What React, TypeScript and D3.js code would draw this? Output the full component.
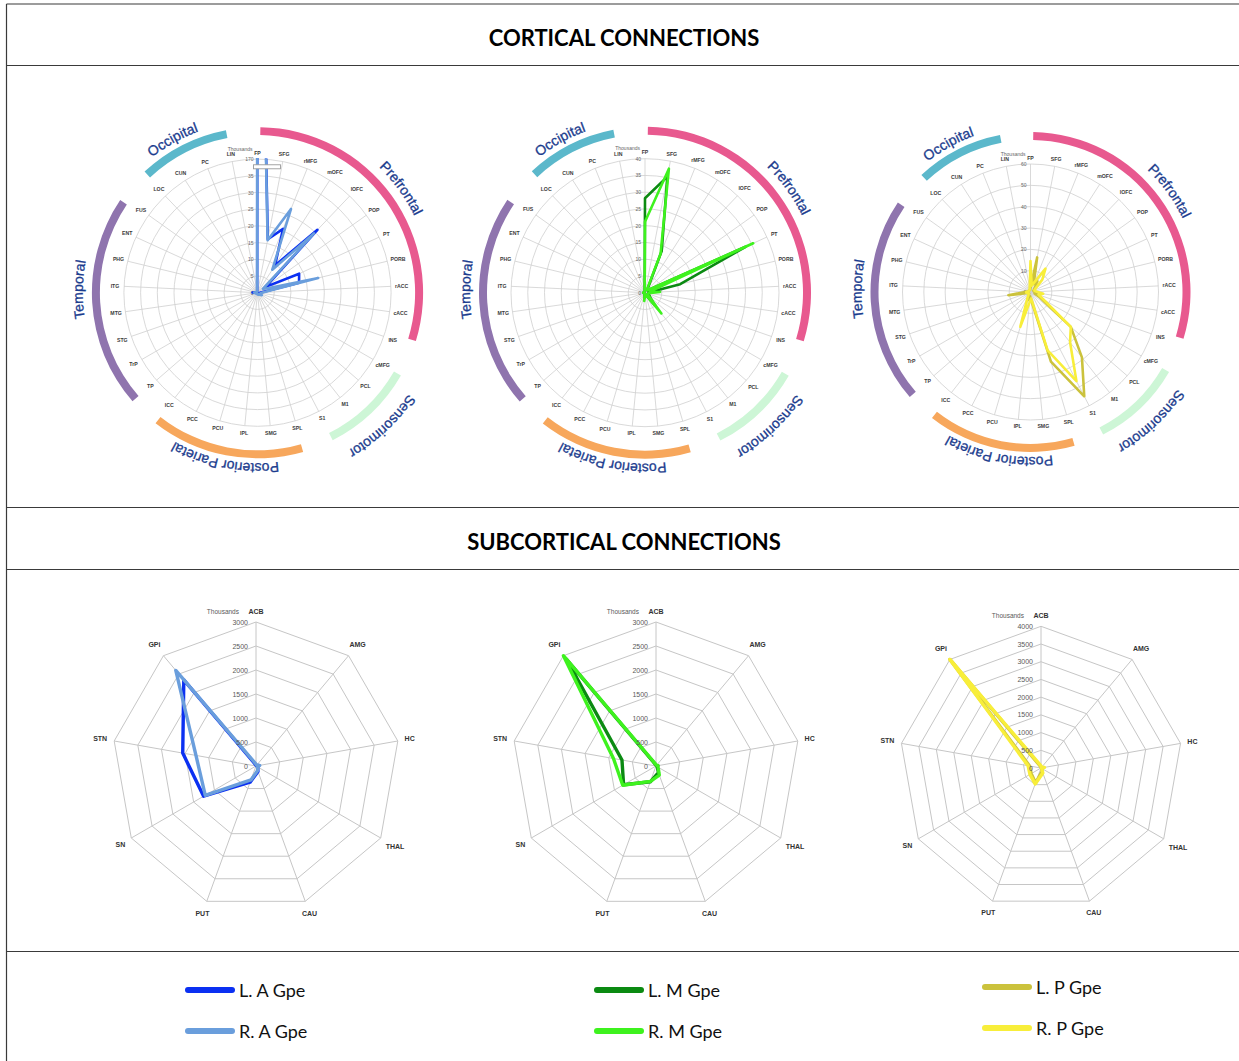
import React from 'react';
import * as d3 from 'd3';

// Cortical target regions, clockwise from the top
const corticalRegions = [
  'FP', 'SFG', 'rMFG', 'mOFC', 'lOFC', 'POP', 'PT', 'PORB', 'rACC', 'cACC', 'INS',
  'cMFG', 'PCL', 'M1', 'S1', 'SPL', 'SMG', 'IPL', 'PCU', 'PCC', 'ICC', 'TP', 'TrP',
  'STG', 'MTG', 'ITG', 'PHG', 'ENT', 'FUS', 'LOC', 'CUN', 'PC', 'LIN',
];

// Streamline counts (thousands), same order as corticalRegions
const leftAGpe = [
  170, 16.3, 20.6, 9.7, 26, 3, 13.7, 12.8, 1, 0.6, 0.5,
  0.8, 0.5, 0.6, 0.5, 0.3, 0.2, 0.3, 0.3, 0.2, 0.2, 0.3, 0.3,
  0.4, 0.5, 1.5, 0.5, 0.3, 0.3, 0.3, 0.2, 0.3, 0.5,
];
const rightAGpe = [
  170, 16, 27, 8.2, 24.5, 2, 3, 18.7, 1.5, 1, 0.8,
  1.5, 0.8, 0.8, 0.6, 0.4, 0.3, 0.5, 0.4, 0.3, 0.3, 0.4, 0.4,
  0.5, 0.6, 1, 0.6, 0.4, 0.4, 0.4, 0.3, 0.4, 0.6,
];
const leftMGpe = [
  28.2, 35.3, 13.4, 1.5, 1, 1.5, 33, 10.8, 1, 1, 1,
  1.5, 2, 4.7, 1, 0.5, 0.3, 1.5, 0.5, 0.3, 0.3, 0.3, 0.3,
  0.3, 0.5, 0.5, 0.3, 0.3, 0.3, 0.3, 0.3, 0.3, 0.5,
];
const rightMGpe = [
  21.2, 37.7, 12.5, 1, 1, 2, 35.5, 1.5, 4.5, 1, 1,
  1, 1.5, 7.9, 1, 0.5, 0.3, 2.5, 0.5, 0.3, 0.3, 0.3, 0.3,
  0.3, 0.5, 0.5, 0.3, 0.3, 0.3, 0.3, 0.3, 0.3, 0.5,
];
const leftPGpe = [
  2, 16.5, 4, 6, 3, 2, 1.5, 1.5, 2, 3, 2,
  5, 25, 39, 55, 34, 4, 2, 4, 2, 1, 1, 1,
  1.5, 10.5, 2, 1, 1, 1, 1, 1, 1, 1,
];
const rightPGpe = [
  14.5, 3, 5, 13, 8, 3, 2, 2, 3, 6, 4,
  7, 25, 30, 47, 28.5, 3, 5, 17, 3, 1.5, 1, 1,
  1, 2, 2, 1, 1, 1, 1, 1, 1, 2,
];

// Radial axis ticks of the cortical charts
const anteriorTickValues = [0, 5, 10, 15, 20, 25, 30, 35, 40];
const anteriorTickText = ['0', '5', '10', '15', '20', '25', '30', '35', '170'];
const medialTickValues = [0, 5, 10, 15, 20, 25, 30, 35, 40];
const medialTickText = ['0', '5', '10', '15', '20', '25', '30', '35', '40'];
const posteriorTickValues = [0, 10, 20, 30, 40, 50, 60];
const posteriorTickText = ['0', '10', '20', '30', '40', '50', '60'];

// Lobe groupings drawn as arcs around each cortical chart (degrees, clockwise from top)
const lobeNames = ['Prefrontal', 'Sensorimotor', 'Posterior Parietal', 'Temporal', 'Occipital'];
const lobeStart = [1, 120, 164, 229, 317];
const lobeEnd = [107, 153, 218, 304, 349];
const lobeLabelAngle = [54, 137, 191, 271, 331];
const lobeLabelGap = [41, 48, 37, 41, 38];
const lobeColors = ['#e8598f', '#cdf6d6', '#f7a75c', '#8f74ae', '#5bb8cb'];

// Subcortical targets, clockwise from the top
const subRegions = ['ACB', 'AMG', 'HC', 'THAL', 'CAU', 'PUT', 'SN', 'STN', 'GPi'];
const subLeftA = [20, 10, 60, 40, 120, 360, 1260, 1550, 2340];
const subRightA = [40, 20, 80, 40, 100, 310, 1220, 1270, 2600];
const subLeftM = [20, 10, 40, 30, 150, 350, 780, 720, 2900];
const subRightM = [30, 20, 40, 50, 200, 340, 800, 900, 3000];
const subLeftP = [30, 10, 60, 20, 100, 450, 320, 330, 4000];
const subRightP = [60, 10, 100, 20, 150, 480, 360, 370, 4000];
const subTicksAM = [0, 500, 1000, 1500, 2000, 2500, 3000];
const subTicksP = [0, 500, 1000, 1500, 2000, 2500, 3000, 3500, 4000];

// Series names and colours
const seriesNames = ['L. A Gpe', 'R. A Gpe', 'L. M Gpe', 'R. M Gpe', 'L. P Gpe', 'R. P Gpe'];
const seriesColors = ['#0b30f2', '#6a9edc', '#0b8a12', '#3ef21e', '#cbc23c', '#f8ee3a'];

const GRID = '#cfcfcf';
const NAVY = '#1b3c8e';

type Series = { values: number[]; color: string };

function circlePath(cx: number, cy: number, r: number) {
  // full circle starting at 12 o'clock, running clockwise
  return `M ${cx} ${cy - r} A ${r} ${r} 0 1 1 ${cx} ${cy + r} A ${r} ${r} 0 1 1 ${cx} ${cy - r}`;
}

// distance from the outer ring to a category label's centre, so the label box clears the ring
function labelOffset(a: number, name: string, pad: number, charW: number, h: number) {
  return pad + Math.abs(Math.sin(a)) * (name.length * charW) / 2 + Math.abs(Math.cos(a)) * h / 2;
}

function CorticalRadar(props: {
  id: string; cx: number; cy: number; R: number; max: number;
  tickValues: number[]; tickText: string[]; series: Series[]; overflowMark?: boolean;
}) {
  const { id, cx, cy, R, max, tickValues, tickText, series, overflowMark } = props;
  const n = corticalRegions.length;
  const angle = d3.scaleLinear().domain([0, n]).range([0, 2 * Math.PI]);
  const radius = d3.scaleLinear().domain([0, max]).range([0, R]);
  const line = d3.lineRadial<number>()
    .angle((_, i) => angle(i))
    .radius((d) => radius(d))
    .curve(d3.curveLinearClosed);
  const band = d3.arc<any>();
  const arcR = R + 28;

  return (
    <g>
      <defs>
        <clipPath id={`${id}-clip`}>
          <circle cx={cx} cy={cy} r={R + 1} />
        </clipPath>
        {lobeNames.map((name, i) => (
          <path key={name} id={`${id}-lobe-${i}`} d={circlePath(cx, cy, R + lobeLabelGap[i])} />
        ))}
      </defs>
      {tickValues.filter((v) => v > 0).map((v) => (
        <circle key={v} cx={cx} cy={cy} r={radius(v)} fill="none" stroke={GRID} strokeWidth={0.8} />
      ))}
      {corticalRegions.map((name, i) => {
        const [x, y] = d3.pointRadial(angle(i), R);
        return <line key={name} x1={cx} y1={cy} x2={cx + x} y2={cy + y} stroke={GRID} strokeWidth={0.8} />;
      })}
      {corticalRegions.map((name, i) => {
        const a = angle(i);
        const [x, y] = d3.pointRadial(a, R + labelOffset(a, name, 4, 3.3, 5));
        return (
          <text key={name} x={cx + x} y={cy + y} fontSize={5.2} fontWeight="bold" fill="#3a3a3a"
            textAnchor="middle" dominantBaseline="central">{name}</text>
        );
      })}
      {tickValues.map((v, i) => (
        <text key={v} x={cx - 4} y={cy - radius(v)} fontSize={5} fill="#666" textAnchor="end"
          dominantBaseline="central">{tickText[i]}</text>
      ))}
      <text x={cx - 5} y={cy - R - 8.5} fontSize={5} fill="#666" textAnchor="end">Thousands</text>

      <g clipPath={`url(#${id}-clip)`}>
        {series.map((s, k) => (
          <path key={k} d={line(s.values) || ''} transform={`translate(${cx},${cy})`} fill="none"
            stroke={s.color} strokeWidth={2.6} strokeLinejoin="round" />
        ))}
      </g>
      {overflowMark && (
        <rect x={cx - 4} y={cy - radius(38.3)} width={27} height={radius(38.3) - radius(37.1)}
          fill="#fff" stroke="#9a9a9a" strokeWidth={0.9} />
      )}

      {lobeNames.map((name, i) => (
        <path key={name} transform={`translate(${cx},${cy})`} fill={lobeColors[i]}
          d={band({ innerRadius: arcR - 4, outerRadius: arcR + 4, startAngle: lobeStart[i] * Math.PI / 180, endAngle: lobeEnd[i] * Math.PI / 180 }) || ''} />
      ))}
      {lobeNames.map((name, i) => (
        <text key={name} fontSize={14} fill={NAVY} stroke={NAVY} strokeWidth={0.3}>
          <textPath href={`#${id}-lobe-${i}`} startOffset={`${(lobeLabelAngle[i] / 360) * 100}%`} textAnchor="middle">
            {name}
          </textPath>
        </text>
      ))}
    </g>
  );
}

function SubcorticalRadar(props: {
  cx: number; cy: number; R: number; max: number; ticks: number[]; series: Series[];
}) {
  const { cx, cy, R, max, ticks, series } = props;
  const n = subRegions.length;
  const angle = d3.scaleLinear().domain([0, n]).range([0, 2 * Math.PI]);
  const radius = d3.scaleLinear().domain([0, max]).range([0, R]);
  const line = d3.lineRadial<number>()
    .angle((_, i) => angle(i))
    .radius((d) => radius(d))
    .curve(d3.curveLinearClosed);
  return (
    <g transform={`translate(${cx},${cy})`}>
      {ticks.filter((t) => t > 0).map((t) => (
        <path key={t} d={line(subRegions.map(() => t)) || ''} fill="none" stroke="#c6c6c6" strokeWidth={1} />
      ))}
      {subRegions.map((name, i) => {
        const [x, y] = d3.pointRadial(angle(i), R);
        return <line key={name} x1={0} y1={0} x2={x} y2={y} stroke="#c6c6c6" strokeWidth={1} />;
      })}
      {series.map((s, k) => (
        <path key={k} d={line(s.values) || ''} fill="none" stroke={s.color} strokeWidth={3.4} strokeLinejoin="round" />
      ))}
      {subRegions.map((name, i) => {
        const a = angle(i);
        const [x, y] = d3.pointRadial(a, R + labelOffset(a, name, 7, 4.5, 7));
        return (
          <text key={name} x={x} y={y} fontSize={7} fontWeight="bold" fill="#333"
            textAnchor="middle" dominantBaseline="central">{name}</text>
        );
      })}
      {ticks.map((t) => (
        <text key={t} x={-8} y={-radius(t)} fontSize={7} fill="#595959" textAnchor="end"
          dominantBaseline="central">{t}</text>
      ))}
      <text x={-17} y={-R - 11} fontSize={6.5} fill="#595959" textAnchor="end" dominantBaseline="central">Thousands</text>
    </g>
  );
}

export default function App() {
  const cortical = [
    { id: 'ant', cx: 257.5, cy: 292.7, R: 133.6, max: 40, tv: anteriorTickValues, tt: anteriorTickText, s: [0, 1], over: true },
    { id: 'med', cx: 645, cy: 292.7, R: 134, max: 40, tv: medialTickValues, tt: medialTickText, s: [2, 3], over: false },
    { id: 'pos', cx: 1030.5, cy: 292, R: 128, max: 60, tv: posteriorTickValues, tt: posteriorTickText, s: [4, 5], over: false },
  ];
  const corticalData = [leftAGpe, rightAGpe, leftMGpe, rightMGpe, leftPGpe, rightPGpe];
  const subData = [subLeftA, subRightA, subLeftM, subRightM, subLeftP, subRightP];
  const sub = [
    { cx: 256, cy: 766, R: 144, max: 3000, ticks: subTicksAM, s: [0, 1] },
    { cx: 656, cy: 766, R: 144, max: 3000, ticks: subTicksAM, s: [2, 3] },
    { cx: 1041, cy: 768, R: 141.7, max: 4000, ticks: subTicksP, s: [4, 5] },
  ];
  const legendX = [188, 597, 985];
  const legendY = [[990, 1031], [990, 1031], [987, 1028]];

  return (
    <svg width={1239} height={1061} style={{ position: 'absolute', left: 0, top: 0, background: '#fff' }}
      fontFamily="'Liberation Sans', Arial, sans-serif">
      <rect x={0} y={0} width={1239} height={1061} fill="#fff" />
      {/* frame */}
      <g stroke="#3a3a3a" strokeWidth={1.2} fill="none">
        <line x1={6.5} y1={4} x2={1239} y2={4} />
        <line x1={6.5} y1={4} x2={6.5} y2={1061} />
        <line x1={6.5} y1={65.5} x2={1239} y2={65.5} />
        <line x1={6.5} y1={507.5} x2={1239} y2={507.5} />
        <line x1={6.5} y1={569.5} x2={1239} y2={569.5} />
        <line x1={6.5} y1={951.5} x2={1239} y2={951.5} />
      </g>
      <text x={624} y={37} fontFamily="Lato, 'Open Sans', sans-serif" fontWeight="bold" fontSize={22}
        textAnchor="middle" dominantBaseline="central" fill="#000">CORTICAL CONNECTIONS</text>
      <text x={624} y={541} fontFamily="Lato, 'Open Sans', sans-serif" fontWeight="bold" fontSize={22}
        textAnchor="middle" dominantBaseline="central" fill="#000">SUBCORTICAL CONNECTIONS</text>

      {cortical.map((c) => (
        <CorticalRadar key={c.id} id={c.id} cx={c.cx} cy={c.cy} R={c.R} max={c.max}
          tickValues={c.tv} tickText={c.tt} overflowMark={c.over}
          series={c.s.map((k) => ({ values: corticalData[k], color: seriesColors[k] }))} />
      ))}
      {sub.map((c, j) => (
        <SubcorticalRadar key={j} cx={c.cx} cy={c.cy} R={c.R} max={c.max} ticks={c.ticks}
          series={c.s.map((k) => ({ values: subData[k], color: seriesColors[k] }))} />
      ))}

      {/* legend */}
      {seriesNames.map((name, k) => {
        const col = Math.floor(k / 2);
        const y = legendY[col][k % 2];
        const x = legendX[col];
        return (
          <g key={name}>
            <line x1={x} y1={y} x2={x + 44} y2={y} stroke={seriesColors[k]} strokeWidth={6} strokeLinecap="round" />
            <text x={x + 51} y={y} fontFamily="Lato, 'Open Sans', sans-serif" fontSize={18} fill="#111"
              dominantBaseline="central">{name}</text>
          </g>
        );
      })}
    </svg>
  );
}
